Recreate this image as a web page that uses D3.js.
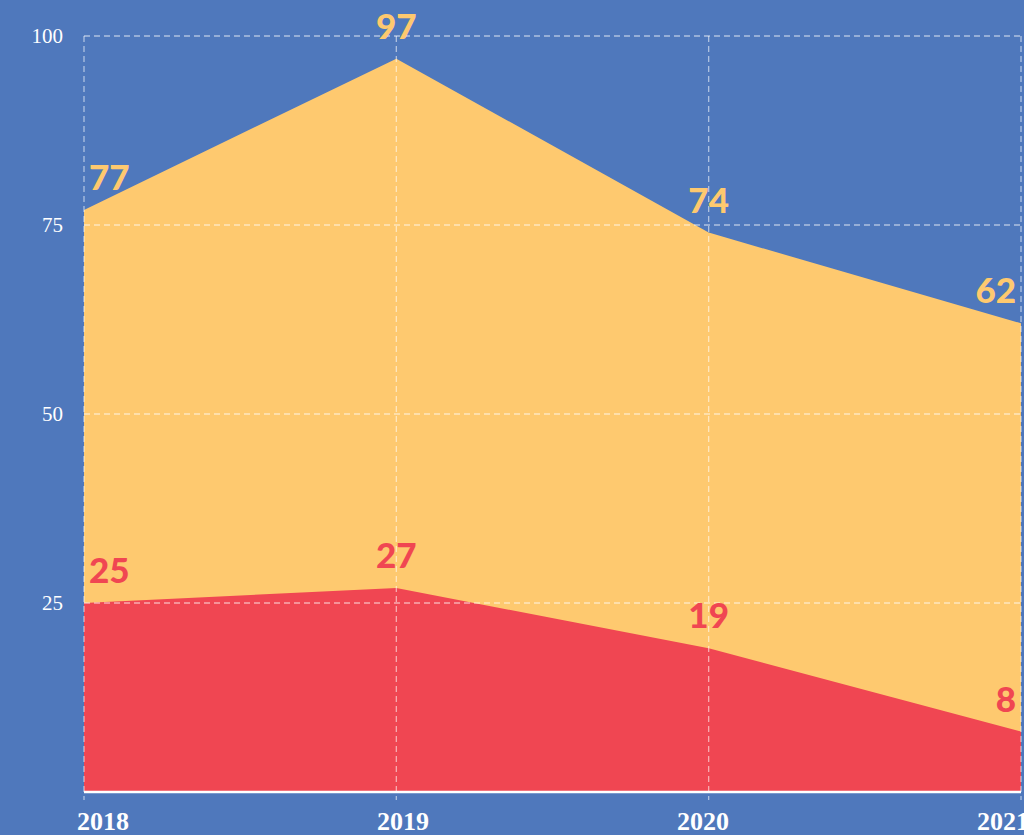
<!DOCTYPE html>
<html>
<head>
<meta charset="utf-8">
<script src="https://cdn.jsdelivr.net/npm/d3@7"></script>
<style>
  html, body { margin: 0; padding: 0; background: #4f78bc; }
  svg { display: block; }
</style>
</head>
<body>
<div id="chart"></div>
<script>
// --- data ---
const years = ['2018', '2019', '2020', '2021'];
const totalValues = [77, 97, 74, 62];
const redValues = [25, 27, 19, 8];
const yTicks = [25, 50, 75, 100];

const width = 1024, height = 835;
const colors = { bg: '#4f78bc', yellow: '#fec96f', red: '#f04652', grid: 'rgba(255,255,255,0.55)' };

const svg = d3.select('#chart').append('svg')
    .attr('width', width)
    .attr('height', height);

svg.append('rect').attr('width', width).attr('height', height).attr('fill', colors.bg);

const x = d3.scalePoint().domain(years).range([84, 1021]);
const y = d3.scaleLinear().domain([0, 100]).range([792, 36]);

// label scale for year labels (they sit on an even 300px rhythm)
const xLabel = d3.scalePoint().domain(years).range([77, 977]);

const totalData = years.map((yr, i) => ({ year: yr, v: totalValues[i] }));
const redData = years.map((yr, i) => ({ year: yr, v: redValues[i] }));

const area = d3.area()
    .x(d => x(d.year))
    .y0(y(0))
    .y1(d => y(d.v));

svg.append('path').datum(totalData).attr('d', area).attr('fill', colors.yellow);
svg.append('path').datum(redData).attr('d', area).attr('fill', colors.red);

// --- grid ---
const grid = svg.append('g');
grid.selectAll('line.h')
    .data(yTicks)
    .enter().append('line')
    .attr('x1', x(years[0])).attr('x2', width)
    .attr('y1', d => y(d)).attr('y2', d => y(d))
    .attr('stroke', colors.grid)
    .attr('stroke-width', 1.3)
    .attr('stroke-dasharray', '6,4');

grid.selectAll('line.v')
    .data(years)
    .enter().append('line')
    .attr('x1', d => x(d)).attr('x2', d => x(d))
    .attr('y1', y(100)).attr('y2', 800)
    .attr('stroke', colors.grid)
    .attr('stroke-width', 1.3)
    .attr('stroke-dasharray', '6,4');

// baseline
svg.append('line')
    .attr('x1', x(years[0])).attr('x2', x(years[years.length - 1]))
    .attr('y1', y(0)).attr('y2', y(0))
    .attr('stroke', '#fff')
    .attr('stroke-width', 2.5);

// --- axes text ---
svg.append('g').selectAll('text')
    .data(yTicks)
    .enter().append('text')
    .attr('x', 63)
    .attr('y', d => y(d) + 7)
    .attr('text-anchor', 'end')
    .attr('fill', '#fff')
    .attr('font-family', '"Liberation Serif", "DejaVu Serif", serif')
    .attr('font-size', 21)
    .text(d => d);

svg.append('g').selectAll('text')
    .data(years)
    .enter().append('text')
    .attr('x', d => xLabel(d))
    .attr('y', 830)
    .attr('fill', '#fff')
    .attr('font-family', '"Liberation Serif", "DejaVu Serif", serif')
    .attr('font-weight', 'bold')
    .attr('font-size', 26)
    .text(d => d);

// --- value labels ---
function anchorFor(i) {
    return i === 0 ? 'start' : (i === years.length - 1 ? 'end' : 'middle');
}
function dxFor(i) {
    return i === 0 ? 5 : (i === years.length - 1 ? -5 : 0);
}

function addLabels(data, color) {
    svg.append('g').selectAll('text')
        .data(data)
        .enter().append('text')
        .attr('x', (d, i) => x(d.year) + dxFor(i))
        .attr('y', d => y(d.v) - 20)
        .attr('text-anchor', (d, i) => anchorFor(i))
        .attr('fill', color)
        .attr('font-family', 'Lato, "Open Sans", sans-serif')
        .attr('font-weight', 900)
        .attr('font-size', 35)
        .text(d => d.v);
}
addLabels(totalData, colors.yellow);
addLabels(redData, colors.red);
</script>
</body>
</html>
